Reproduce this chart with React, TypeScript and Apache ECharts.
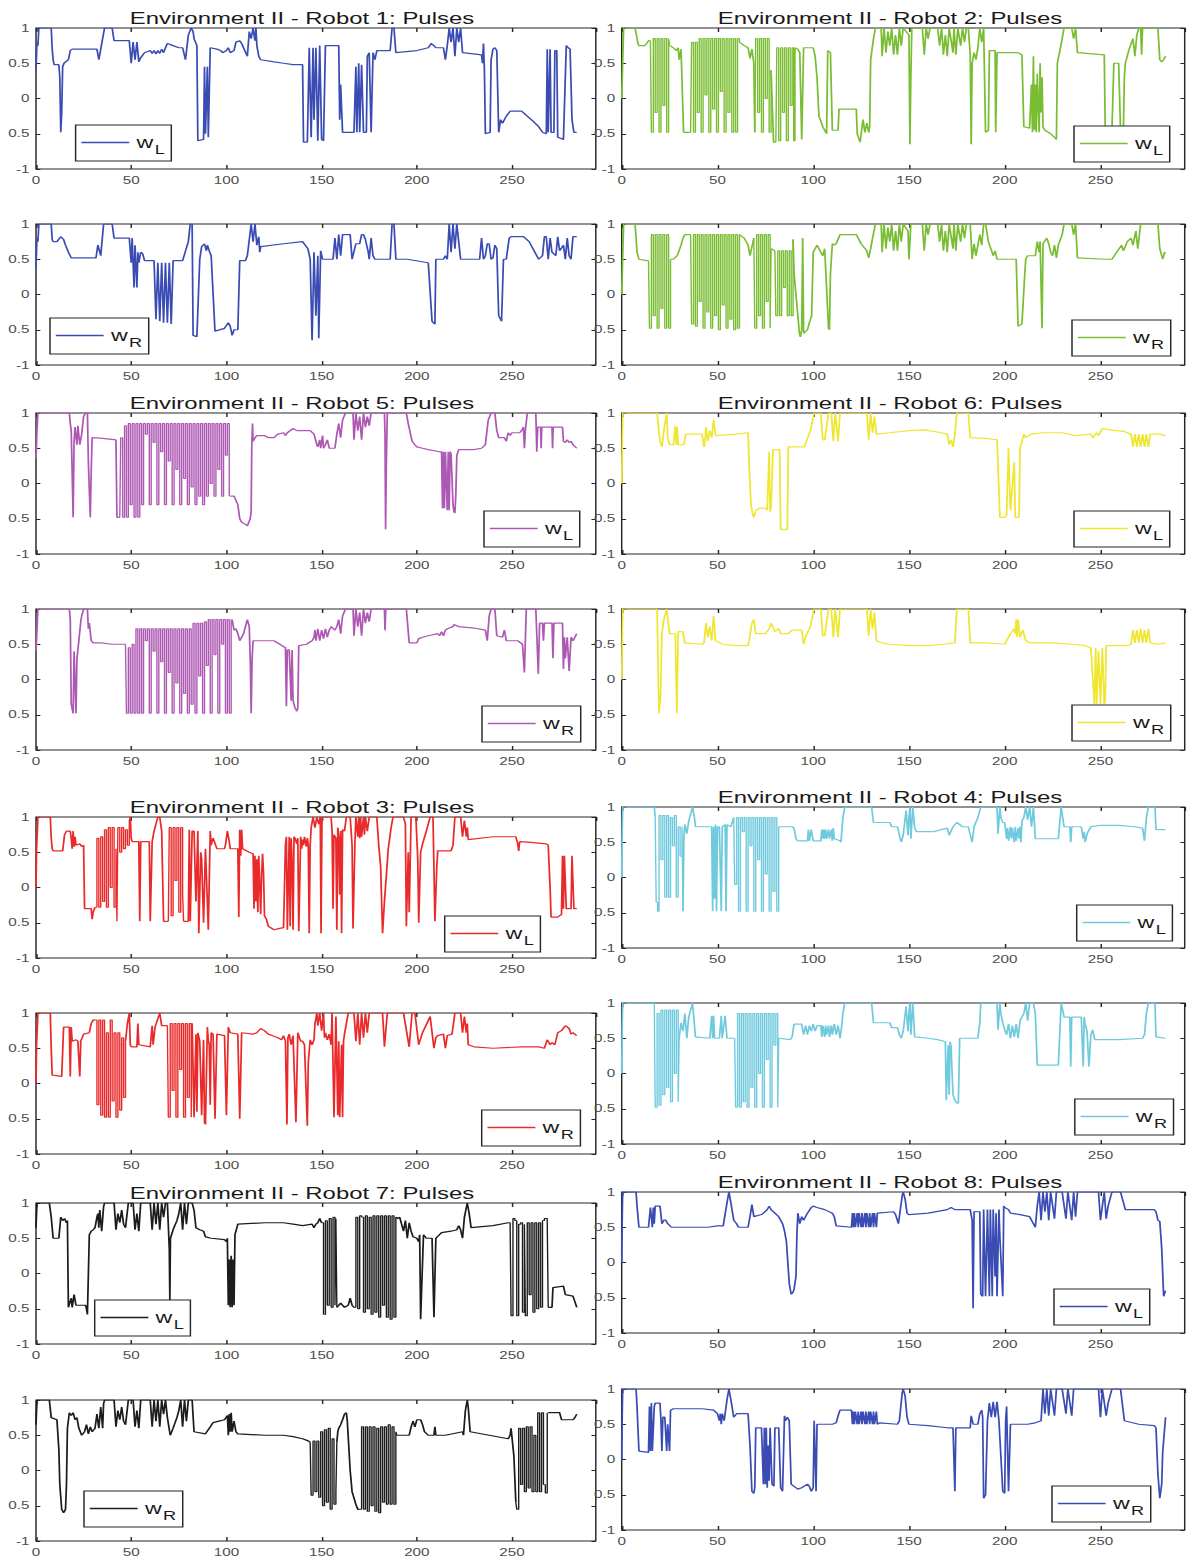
import React, { useEffect, useRef } from "react";
import * as echarts from "echarts";

// The figure is drawn on a narrower canvas and widened horizontally,
// which gives the broad lettering of the original plot export.
const STRETCH = 1.45;
const PAGE_W = 1189;
const PAGE_H = 1559;
const INNER_W = PAGE_W / STRETCH;

const FONT = "'Liberation Sans', Arial, Helvetica, sans-serif";

const X_MAX = 294;
const X_STEP = 50;
const Y_MIN = -1;
const Y_MAX = 1;
const Y_STEP = 0.5;

// break marker inside a trace (the pulse trains are drawn separately)
const GAP = NaN;

// ---- pulse traces, flat [x, y, x, y, ...] ----
const r1L = [0,0.4, 0.5,0.8, 1,0.75, 1.5,1, 8,1, 8.5,0.7, 9,0.55, 9.5,0.48, 12,0.48, 12.5,0.3, 13,-0.48, 13.5,-0.2, 14,0.45, 14.7,0.5, 17,0.55, 18,0.68, 19,0.7, 32,0.7, 33,0.55, 34,0.7, 36,1, 40,1, 41,0.82, 49,0.82, 50,0.5, 51,0.8, 52,0.55, 53,0.8, 54,0.52, 55,0.58, 57,0.65, 60,0.68, 61,0.64, 62,0.68, 63,0.63, 64,0.68, 65,0.64, 66,0.7, 67,0.65, 68,0.72, 69,0.78, 72,0.75, 75,0.72, 77,0.72, 78.5,0.55, 80,0.9, 81.5,1, 82.5,0.95, 83,0.85, 84.5,0.75, 85,-0.6, 88,-0.58, 88.5,0.45, 89,-0.5, 90,0.45, 90.5,-0.55, 91.5,0.72, 95,0.7, 97,0.68, 98,0.65, 100,0.68, 101,0.72, 102,0.65, 104,0.68, 105,0.8, 107,0.82, 108,0.78, 109,0.72, 111,0.6, 112,0.95, 113,0.85, 114,1, 115,0.82, 115.5,1, 116,0.75, 117,0.6, 118,0.55, 125,0.52, 130,0.5, 135,0.48, 140,0.48, 140.5,-0.62, 142.5,-0.62, 143.5,0.72, 144.5,-0.55, 145.5,0.72, 146,-0.3, 147,0.72, 148,-0.6, 149,0.75, 150,-0.58, 151,-0.6, 152,0.75, 159,0.75, 159.5,-0.3, 160,0.2, 161,-0.48, 167,-0.48, 168,0.45, 168.5,-0.48, 169.5,0.5, 170,-0.48, 171,0.48, 172,-0.48, 173.5,-0.48, 174,0.6, 175,0.65, 176,-0.48, 177,0.65, 178,0.55, 179,0.68, 186,0.68, 187,1, 188,1, 189,0.65, 200,0.68, 206,0.72, 207.5,0.78, 209,0.75, 210,0.72, 214,0.72, 215,0.55, 216,0.75, 217,1, 218,0.8, 219,1, 220,0.6, 221,1, 222,0.8, 223,1, 224,0.65, 234,0.62, 234.5,0.5, 235,0.78, 235.5,0.4, 236,-0.5, 238.5,-0.48, 239,0.55, 240,0.7, 241,0.72, 242,0.68, 243,-0.48, 244,-0.3, 245,-0.35, 247,-0.25, 249,-0.18, 255,-0.18, 258,-0.25, 261,-0.32, 264,-0.4, 266,-0.48, 268,-0.5, 268.5,0.7, 269,-0.48, 270,0.7, 270.5,-0.48, 272,-0.48, 272.5,0.68, 273.5,0.68, 274,-0.55, 277,-0.58, 278.5,0.75, 279.5,0.72, 280.5,0.7, 281.5,-0.3, 282.5,-0.48, 284,-0.48];

const r1R = [0,0.4, 0.5,0.8, 1,0.75, 1.5,1, 8,1, 8.5,0.78, 9,0.75, 11,0.75, 13,0.82, 14.5,0.78, 15.5,0.7, 17,0.6, 18.5,0.52, 31.5,0.52, 32.5,0.7, 34,0.55, 35.5,1, 40,1, 41,0.8, 49,0.8, 50,0.45, 50.5,0.8, 51.5,0.1, 52,0.7, 53,0.1, 53.5,0.6, 54,0.45, 55,0.6, 56,0.58, 57,0.48, 62,0.48, 63,-0.35, 64,0.45, 65,-0.38, 66,0.45, 67,-0.4, 68,0.45, 69,-0.4, 70,0.45, 71,-0.42, 72,0.48, 77,0.48, 80,0.75, 81,1, 82,1, 82.5,-0.58, 84.5,-0.6, 86,0.5, 87,0.68, 88.5,0.72, 89.5,0.62, 90,0.7, 91,0.62, 92,0.55, 94,-0.52, 99,-0.48, 101,-0.4, 102,-0.45, 103,-0.58, 104,-0.5, 106,-0.5, 107,0.48, 110,0.48, 111,0.55, 113,1, 114,0.75, 115,1, 116,0.7, 117,0.82, 117.5,0.6, 118,0.68, 130,0.72, 140,0.75, 142.8,0.65, 144,0.5, 145,-0.65, 146,0.6, 147,-0.3, 148,0.55, 148.5,-0.62, 149.5,0.62, 150.5,0.5, 156,0.5, 157,0.8, 158,0.5, 159,0.85, 160,0.55, 161,0.85, 165,0.85, 166,0.5, 168,0.72, 170,0.72, 171,0.85, 172,0.85, 173,0.78, 174.5,0.6, 175,0.5, 176,0.8, 177,0.55, 178,0.5, 186,0.5, 187,1, 188,1, 189,0.5, 195,0.5, 206,0.45, 208,-0.38, 209.5,-0.42, 210,0.5, 214,0.5, 215,0.55, 216,0.5, 217,1, 218,0.6, 219,1, 220,0.65, 221,1, 222,0.75, 223,0.5, 233,0.5, 234,0.8, 235,0.5, 236,0.55, 237,0.72, 238,0.72, 239,0.5, 240,0.52, 241,0.7, 242,0.65, 243,-0.3, 244.5,-0.38, 245.5,0.5, 247,0.5, 248.5,0.8, 249.5,0.82, 256,0.82, 259,0.75, 262,0.6, 264,0.5, 266,0.55, 267,0.82, 268,0.82, 269,0.5, 270,0.8, 271,0.6, 273,0.55, 274,0.82, 275,0.62, 277,0.7, 278,0.5, 279,0.8, 280,0.55, 281,0.5, 282,0.82, 284,0.82];

const r2L = [0,0, 1,1, 7,1, 8.5,0.78, 9,0.75, 12,0.75, 13,0.78, 14,0.82, 15,0.82, GAP,GAP,
  25,0.75, 27,0.72, 28.5,0.68, 29.5,0.72, 30,0.55, 31,0.7, 32.3,-0.48, 36,-0.48, GAP,GAP,
  61.5,0.8, 64,0.75, 66,0.72, 67,0.57, 68,0.7, 69,0.5, 69.5,-0.48, GAP,GAP,
  78,0.4, 79.3,-0.62, 80.5,-0.62, GAP,GAP,
  90.5,0.72, 92,0.7, 93,0.65, 94,-0.58, 95,0.72, 100,0.72, 101,0.6, 102,0.3, 103,-0.25, 105,-0.4, 107,-0.5, 107.6,0.68, 109,0.65, 110,-0.45, 113,-0.45, 113.5,-0.15, 122.5,-0.15, 123,-0.5, 124.5,-0.62, 126,-0.3, 127,-0.48, 128,-0.35, 129,-0.48, 129.5,-0.4, 130,0.55, 131.5,0.85, 132.5,1,
  135.5,1, 136,0.6, 137,1, 138,0.65, 139,0.95, 140,0.75, 141,1, 142,0.62, 143,0.9, 144,0.62, 145,1, 146,0.75, 147,1, 150,0.9, 150.5,-0.65, 151,0.3, 151.5,1, 157,1, 158,0.62, 159,1, 160,0.85, 161,1, 165,1, 166,0.75, 167,1, 168,0.62, 169,0.9, 170,0.6, 171,1, 173,0.65, 173.5,1, 174.5,0.62, 175.5,1, 177,0.75, 178,1, 179,0.8, 180,1, 181,1, 182,0.62, 182.5,-0.65, 183,0.5, 184,0.65, 185,0.55, 186,0.72, 187,1, 188,0.8, 189,1,
  190,-0.48, 191.5,-0.45, 192,0.68, 195,0.68, 195.3,-0.48, 196,0.65, 207,0.65, 209,0.62, 210,-0.4, 213,-0.42,
  214,0.2, 214.5,-0.48, 215,0.6, 215.5,-0.45, 216,0.2, 216.5,-0.48, 217,0.35, 218,-0.48, 218.5,0.5, 219,-0.2, 219.5,0.3, 220,-0.4, 221,-0.45, 224,-0.5, 226,-0.55, 227,-0.58, 227.5,0.5, 229,0.7, 230,0.85, 231,1, 235,1, 236,0.85, 237,1, 238,0.65, 252,0.62, 252.5,-0.45, 256,-0.45, 257,0.5, 259.5,0.5, 260.5,-0.45, 262,-0.42, 262.5,0.3, 263,0.5, 265,0.7, 267,0.85, 268,0.6, 269,0.9, 270,1, 271,1, 271.5,0.62, 272,1, 280,1, 281,0.55, 282,0.52, 283,0.55, 284,0.6];

const r2Lpulses = [
  [15,0.82, 15.5,-0.48, 16.5,0.85, 17.5,-0.2, 18.5,0.85, 19.5,-0.48, 20.5,0.85, 21.5,-0.1, 22.5,0.85, 23.5,-0.48, 24.5,0.85, 25,0.75],
  [36,-0.48, 36.5,0.8, 37.5,-0.48, 38.5,0.8, 39.5,-0.2, 40.5,0.85, 41.5,-0.48, 42.5,0.85, 43.5,0.05, 44.5,0.85, 45.5,-0.48, 46.5,0.85, 47.5,-0.15, 48.5,0.85, 49.5,-0.48, 50.5,0.85, 51.5,0.1, 52.5,0.85, 53.5,-0.48, 54.5,0.85, 55.5,-0.2, 56.5,0.85, 57.5,-0.48, 58.5,0.85, 59.5,-0.48, 60.5,0.85, 61.5,0.8],
  [69.5,-0.48, 70,0.85, 71,-0.2, 72,0.85, 73,-0.48, 74,0.85, 75,0, 76,0.85, 77,-0.48, 78,0.4],
  [80.5,-0.62, 81,0.72, 82,-0.6, 83,0.72, 84,-0.2, 85,0.72, 86,-0.6, 87,0.72, 88,-0.1, 89,0.72, 89.8,-0.6, 90.5,0.72],
];

const r2R = [0,0, 1,1, 7,1, 8,0.6, 9,0.5, 13,0.48, 14,0.48, GAP,GAP,
  25.5,0.5, 27,0.5, 29,0.55, 31,0.7, 32,0.8, 33,0.85, 36,0.85, GAP,GAP,
  61.5,0.85, 64,0.8, 66,0.7, 67,0.55, 69,0.8, GAP,GAP,
  78,0.65, 80,0.62, GAP,GAP,
  89.5,0.78, 90,0.3, 92.8,-0.55, 93.3,-0.6, 94,-0.5, 94.5,0.8, 95,-0.55, 97,-0.5, 98,-0.4, 99.2,-0.3, 100,0.6, 101,0.65, 102,0.7, 103,0.65, 105,0.55, 106,0.65, 108,-0.48, 108.5,-0.5, 109,0.3, 110,0.72, 111,0.7, 112,0.72, 114,0.85, 122.5,0.85, 125,0.72, 128,0.62, 129,0.52, 130,0.65, 131,0.8, 132.5,1,
  135.5,1, 136,0.6, 137,1, 138,0.65, 139,0.95, 140,0.75, 141,1, 142,0.62, 143,0.9, 144,0.62, 145,1, 146,0.75, 147,1, 149.5,0.9, 150,0.5, 151,1, 157,1, 158,0.62, 159,1, 160,0.85, 161,1, 165,1, 166,0.75, 167,1, 168,0.62, 169,0.9, 170,0.6, 171,1, 173,0.65, 173.5,1, 174.5,0.62, 175.5,1, 177,0.75, 178,1, 179,0.8, 180,1, 182,1, 183,0.5, 184,0.72, 185,0.55, 187,0.85, 188,0.7, 189,1, 190,1, 191.5,0.75, 194,0.55, 195,0.62, 196,0.5, 206,0.5, 207,-0.45, 209,-0.42, 210.5,0.3, 211,0.5, 212,0.55, 216,0.55, 217,0.75, 218,0.6, 218.5,0.75, 219.5,-0.48, 220,0.72, 222,0.8, 223,0.72, 224,0.6, 225,0.55, 226,0.7, 227,0.52, 228,0.7, 230,0.85, 231,1, 235,1, 236,0.85, 237,1, 238,0.52, 252,0.5, 256,0.5, 258,0.58, 261,0.7, 262,0.62, 264,0.75, 266,0.8, 267,0.7, 268.5,0.9, 269.5,0.65, 271,1, 280,1, 281,0.65, 282.5,0.5, 283.5,0.6, 284,0.58];

const r2Rpulses = [
  [14,0.48, 14.5,-0.48, 15.5,0.85, 16.5,-0.3, 17.5,0.85, 18.5,-0.48, 19.5,0.85, 20.5,-0.2, 21.5,0.85, 22.5,-0.48, 23.5,0.85, 24.5,-0.48, 25.5,0.5],
  [36,0.85, 36.5,-0.42, 37.5,0.85, 38.5,-0.45, 39.5,0.85, 40.5,-0.1, 41.5,0.85, 42.5,-0.48, 43.5,0.85, 44.5,-0.25, 45.5,0.85, 46.5,-0.48, 47.5,0.85, 48.5,-0.3, 49.5,0.85, 50.5,-0.5, 51.5,0.85, 52.5,-0.15, 53.5,0.85, 54.5,-0.48, 55.5,0.85, 56.5,-0.35, 57.5,0.85, 58.5,-0.5, 59.5,0.85, 60.5,-0.48, 61.5,0.85],
  [69,0.8, 69.5,-0.48, 70.5,0.85, 71.5,-0.3, 72.5,0.85, 73.5,-0.48, 74.5,0.85, 75.5,-0.1, 76.5,0.85, 77.5,-0.48, 78,0.65],
  [80,0.62, 80.5,-0.3, 81.5,0.62, 82.5,-0.3, 83.5,0.62, 84.5,0.1, 85.5,0.62, 86.5,-0.3, 87.5,0.62, 88.5,-0.3, 89.5,0.78],
];

const r5L = [0,0.35, 0.5,0.75, 1,1, 17.5,1, 18,0.85, 18.5,0.75, 19.5,-0.48, 20,0.6, 20.5,0.8, 21.5,0.55, 22,0.82, 23,0.55, 24,0.7, 25,0.95, 26,1, 27,1, 27.5,0.3, 28.5,-0.48, 29,0.2, 29.5,0.65, 35,0.64, 42,0.62, 42.5,-0.48, 44,-0.48, GAP,GAP,
  102,-0.18, 104,-0.18, 106,-0.3, 107,-0.5, 108,-0.55, 110,-0.58, 111,-0.6, 112.5,-0.5, 113,-0.4, 113.3,0.5, 113.7,0.85, 114,0.6, 115,0.65, 116,0.68, 120,0.68, 122,0.65, 125,0.65, 127,0.7, 130,0.72, 131,0.68, 132,0.72, 135,0.78, 137,0.75, 144,0.75, 146,0.7, 147.5,0.55, 148,0.52, 149,0.62, 149.5,0.5, 150.5,0.68, 151,0.5, 152,0.55, 153,0.62, 154,0.5, 157,0.5, 158,0.7, 159,0.85, 160,0.65, 161,0.9, 162.5,1, 166.5,1, 167,0.62, 168,1, 169,0.75, 170,0.95, 171,0.62, 172,1, 173,0.8, 174,0.95, 175,0.82, 176,1, 183,1, 183.3,0.7, 183.6,-0.65, 184,0.3, 184.5,1, 194.5,1, 195.5,0.85, 197.5,0.6, 199,0.55, 200,0.52, 203,0.5, 206,0.48, 212,0.45,
  213,0.45, 213.5,-0.35, 214,0.45, 214.5,-0.35, 215,0.45, 216,-0.38, 216.5,0.45, 217,-0.38, 217.5,0.45, 218,0.42, 219,-0.3, 219.5,-0.4, 220,-0.42, 220.5,-0.15, 221,0.4, 222,0.48, 230,0.48, 234,0.5, 236,0.55, 237.5,0.9, 239,1, 241,1, 242,0.75, 243,0.65, 246,0.65, 247,0.6, 248,0.72, 249,0.68, 250,0.72, 254,0.72, 255,0.75, 256,0.8, 256.5,0.5, 257,0.75, 258,1, 262.5,1, 263,0.45, 263.5,0.8, 265,0.8, 265.3,0.5, 265.6,0.8, 271,0.8, 271.3,0.5, 271.6,0.8, 276.5,0.8, 277,0.6, 278,0.58, 279,0.62, 280,0.58, 281,0.6, 282,0.55, 284,0.5];

const r5Lpulses = [
  [44,-0.48, 44.5,0.65, 45.5,-0.48, 46.5,0.82, 47.5,-0.48, 48.5,0.85, 49.5,-0.3, 50.5,0.85, 51.5,-0.48, 52.5,0.85, 53.5,-0.48, 54.5,0.85, 55.5,-0.3, 56.5,0.85, 57.5,0.7, 58.5,0.85, 59.5,-0.3, 60.5,0.85, 61.5,0.58, 62.5,0.85, 63.5,-0.3, 64.5,0.85, 65.5,0.45, 66.5,0.85, 67.5,-0.3, 68.5,0.85, 69.5,0.32, 70.5,0.85, 71.5,-0.3, 72.5,0.85, 73.5,0.2, 74.5,0.85, 75.5,-0.3, 76.5,0.85, 77.5,0.07, 78.5,0.85, 79.5,-0.3, 80.5,0.85, 81.5,-0.05, 82.5,0.85, 83.5,-0.3, 84.5,0.85, 85.5,-0.18, 86.5,0.85, 87.5,-0.3, 88.5,0.85, 89.5,-0.18, 90.5,0.85, 91.5,0, 92.5,0.85, 93.5,-0.18, 94.5,0.85, 95.5,0.2, 96.5,0.85, 97.5,-0.18, 98.5,0.85, 99.5,0.4, 100.5,0.85, 101.5,-0.18, 102,-0.18],
];

const r5R = [0,0.4, 1,1, 17.5,1, 18,0.85, 18.5,-0.35, 19.5,-0.48, 20,0.4, 21,-0.48, 21.5,0.3, 22.5,0.55, 23.5,0.82, 24,0.9, 25,1, 27,1, 27.5,0.72, 28,0.8, 29,0.55, 30,0.52, 34,0.52, 40,0.5, 47,0.5, GAP,GAP,
  103,0.85, 104,0.7, 105,0.72, 106,0.65, 107,0.55, 108,0.6, 109,0.65, 110,0.75, 111,0.85, 112,0.75, 112.6,0.2, 113,-0.48, 113.5,0.3, 114,0.55, 125,0.55, 128,0.5, 131,0.45, 131.5,-0.38, 132,0.42, 133,0.42, 134,-0.3, 134.5,0.42, 135,-0.3, 136,-0.4, 137,-0.45, 137.5,-0.4, 138,0.48, 142,0.5, 145,0.55, 146,0.6, 146.5,0.7, 147,0.55, 148,0.72, 149,0.55, 150,0.7, 151,0.58, 152,0.72, 153,0.6, 154,0.7, 155,0.75, 157,0.7, 158,0.75, 159,0.85, 160,0.65, 161,0.9, 162.5,1, 166.5,1, 167,0.62, 168,1, 169,0.75, 170,0.95, 171,0.62, 172,1, 173,0.8, 174,0.95, 175,0.82, 176,1, 183,1, 183.3,0.7, 183.7,1, 194.5,1, 196,0.52, 200,0.52, 201,0.58, 203,0.6, 206,0.62, 211,0.65, 212,0.62, 213,0.68, 214,0.62, 215,0.7, 216,0.72, 219,0.75, 219.5,0.78, 222,0.75, 230,0.73, 236,0.7, 237,0.55, 238,0.9, 239,1, 241,1, 242,0.62, 245,0.6, 246,0.7, 247,0.55, 253,0.55, 255.5,0.5, 256.5,0.1, 257.5,1, 262.5,1, 263.8,0.08, 264.5,0.8, 266,0.8, 266.5,0.55, 267,0.8, 271,0.8, 271.5,0.3, 272,0.8, 276.5,0.8, 277,0.15, 277.5,0.6, 278,0.3, 279,0.6, 280,0.12, 281,0.6, 282,0.55, 284,0.65];

const r5Rpulses = [
  [47,0.5, 47.5,-0.48, 48.5,0.45, 49.5,-0.48, 50.5,0.5, 51.5,-0.48, 52.5,0.72, 53.5,-0.48, 54.5,0.72, 55.5,-0.48, 56.5,0.72, 57.5,0.55, 58.5,0.72, 59.5,-0.48, 60.5,0.72, 61.5,0.4, 62.5,0.72, 63.5,-0.48, 64.5,0.72, 65.5,0.25, 66.5,0.72, 67.5,-0.48, 68.5,0.72, 69.5,0.1, 70.5,0.72, 71.5,-0.48, 72.5,0.72, 73.5,-0.05, 74.5,0.72, 75.5,-0.48, 76.5,0.72, 77.5,-0.2, 78.5,0.72, 79.5,-0.48, 80.5,0.72, 81.5,-0.35, 82.5,0.8, 83.5,-0.48, 84.5,0.8, 85.5,0.05, 86.5,0.8, 87.5,-0.48, 88.5,0.82, 89.5,0.2, 90.5,0.85, 91.5,-0.48, 92.5,0.85, 93.5,0.35, 94.5,0.85, 95.5,-0.48, 96.5,0.85, 97.5,0.5, 98.5,0.85, 99.5,-0.48, 100.5,0.85, 101.5,-0.48, 102.5,0.85, 103,0.85],
];

const r6L = [0,0, 0.5,1, 18.5,1, 19,0.85, 20,0.6, 21,0.52, 22,0.75, 23.5,1, 24,0.65, 25,0.55, 27,0.55, 28,0.82, 28.5,0.55, 29,0.8, 29.5,0.55, 32.5,0.55, 33.5,0.7, 42,0.7, 43,0.52, 43.5,0.6, 44,0.8, 45,0.6, 46,0.75, 47,0.65, 48,0.9, 49,0.68, 60,0.7, 66,0.72, 66.5,0.3, 67,0, 67.5,-0.3, 68.5,-0.45, 69,-0.48, 70,-0.38, 72,-0.35, 75,-0.35, 76,-0.38, 77,0.45, 77.5,-0.4, 78,-0.35, 79,0.48, 82.5,0.48, 83,-0.65, 86.5,-0.65, 87,0.52, 95.5,0.52, 96.5,0.6, 98.5,0.75, 100.5,1, 104,1, 105,0.62, 106,0.62, 108,1, 109.5,1, 110.5,0.6, 111.5,1, 113,0.6, 114,1, 128,1, 129,0.62, 130,1, 131,0.72, 132,0.95, 133,0.7, 140,0.72, 150,0.75, 158,0.76, 167,0.72, 170,0.7, 171,0.55, 172,0.62, 173,0.52, 174,0.7, 175,1, 181,1, 182,0.65, 190,0.64, 196,0.62, 197.5,-0.48, 200,-0.48, 201,-0.45, 202,0.5, 203,-0.38, 205,0.3, 205.5,-0.48, 207.5,-0.48, 208,0.5, 209,0.6, 210,0.7, 211,0.65, 214,0.7, 220,0.72, 230,0.72, 237,0.68, 245,0.7, 246,0.65, 248,0.72, 249,0.68, 251,0.78, 255,0.76, 262,0.74, 266,0.7, 267,0.52, 268,0.7, 269,0.52, 270,0.7, 271,0.52, 272,0.7, 273,0.52, 274,0.7, 275,0.52, 276,0.7, 281,0.7, 284,0.68];

const r6R = [0,0, 0.5,1, 18.5,1, 19,0.15, 19.5,-0.48, 20.3,-0.2, 21,0.65, 22,0.85, 23.5,1, 25,0.65, 28,0.65, 28.8,-0.48, 29.5,0.68, 32,0.68, 33,0.52, 42,0.5, 43,0.52, 44,0.8, 45,0.6, 46,0.75, 47,0.55, 48,0.9, 49,0.55, 53,0.5, 60,0.48, 66,0.48, 67,0.62, 68,0.8, 69,0.85, 70,0.65, 75,0.65, 77,0.72, 78,0.8, 79,0.75, 80,0.68, 82,0.72, 83,0.65, 87,0.65, 89,0.7, 94,0.7, 95,0.5, 96,0.6, 98.5,0.75, 100.5,1, 104,1, 105,0.62, 106,0.62, 108,1, 109.5,1, 110.5,0.6, 111.5,1, 113,0.6, 114,1, 128,1, 129,0.62, 130,1, 131,0.72, 132,0.95, 133,0.55, 136,0.52, 140,0.5, 150,0.48, 160,0.48, 168,0.5, 174,0.52, 175,1, 181,1, 182,0.52, 190,0.52, 200,0.5, 201,0.55, 203,0.65, 205,0.72, 205.5,0.65, 206,0.85, 206.5,0.6, 207,0.85, 208,0.6, 209.5,0.7, 211,0.55, 213,0.52, 225,0.52, 235,0.5, 242,0.48, 245,0.45, 246.8,-0.35, 247.5,0.45, 248,-0.35, 249,0.4, 250,-0.35, 251,0.45, 252,-0.35, 252.5,-0.3, 253,0.48, 264,0.48, 266,0.5, 267,0.7, 268,0.52, 269,0.7, 270,0.52, 271,0.72, 272,0.52, 273,0.7, 274,0.52, 275,0.72, 276,0.52, 280,0.5, 284,0.52];

const r3L = [0,0, 0.3,0.55, 1,1, 7.5,1, 8,0.7, 8.5,0.55, 9,0.52, 14,0.52, 15,0.75, 16,0.8, 18,0.8, 18.5,0.7, 19,0.55, 19.5,0.8, 20,0.58, 20.5,0.72, 21,0.6, 23,0.62, 24,0.58, 25,0.6, 25.5,-0.3, 29,-0.3, 29.5,-0.45, 30,-0.35, 31,-0.28, GAP,GAP,
  49.5,1, 50,0.7, 50.5,0.65, 54,0.65, 54.5,-0.48, 55,0.65, 59.5,0.65, 60,-0.48, 61,0.65, 62,0.8, 64,1, 65,1, 66,0.8, 67,-0.48, 69.5,-0.48, GAP,GAP,
  77.5,-0.48, 80,-0.48, 80.5,0.82, 81,-0.48, 82,0.8, 83,0.8, 84,-0.2, 85,0.8, 85.5,-0.65, 86.5,0.5, 87,0.4, 88,-0.5, 89,0.55, 90.5,-0.6, 91.5,0.8, 92,0.6, 93,0.7, 95,0.55, 99,0.55, 99.5,0.6, 100.5,0.8, 101.5,0.65, 102,0.55, 106,0.55, 106.5,-0.42, 107,0.82, 107.5,0.45, 108,0.82, 108.5,0.55, 109,0.55, 112,0.5, 114,0.48,
  114.5,-0.3, 115,0.45, 115.5,-0.2, 116,0.4, 116.5,-0.35, 117,0.45, 118,-0.38, 118.5,0.2, 119,0.48, 119.5,0.2, 120,-0.4, 121,-0.45, 122,-0.55, 125,-0.6, 128,-0.58, 130,-0.57,
  131,0.6, 131.5,0.72, 132,-0.6, 133,0.72, 133.5,-0.55, 134,0.7, 134.5,0.35, 135,-0.6, 135.5,0.72, 136,0.7, 137,0.62, 137.5,0.7, 138,-0.62, 139,0.72, 139.5,0.55, 140,0.68, 140.5,0.6, 141,0.72, 142,0.58, 142.5,0.7, 143,0.6, 143.5,-0.65, 144,0.6, 144.5,0.85, 145.5,1, 146.5,0.85, 147.5,1, 148.5,0.9, 149.3,1, 149.7,-0.65, 150.2,1, 155,1, 155.5,0.8, 156,-0.3, 156.5,0.75, 157.5,0.7, 158,-0.6, 158.5,0.85, 159,0.72, 159.5,-0.1, 160,0.8, 160.5,-0.65, 161,0.82, 162,0.8, 163,1, 165,1, 166,0.6, 166.5,-0.58, 167.5,0.65, 168,1, 169,0.72, 169.5,1, 170,0.7, 170.5,1, 171,0.72, 172,1, 172.5,0.75, 173,1, 174,0.8, 175,1, 179,1, 180,0.6, 181,0.3, 182,-0.65, 183,-0.2, 185,0.55, 186.5,0.85, 187.5,1, 193,1, 194,0.9, 194.5,-0.55, 195.5,0.5, 196,-0.35, 197,1, 199.5,1, 200.5,0.4, 201,-0.5, 202,0.5, 203,0.62, 205,0.8, 207,1, 208.5,1, 209.5,-0.48, 210.5,0.3, 211,0.52, 218,0.52, 219,0.6, 220,1, 223,1, 224,0.72, 225,0.95, 226,0.72, 226.5,0.85, 227,0.68, 240,0.72, 252,0.72, 253,0.62, 253.5,0.52, 254,0.65, 260,0.64, 268,0.62, 269,0.6, 270,0, 270.5,-0.42, 274,-0.42, 276,-0.38, 276.5,0.45, 277,-0.3, 277.5,0.45, 278.5,-0.3, 281,-0.3, 281.5,0.45, 282.5,-0.3, 284,-0.3];

const r3Lpulses = [
  [31,-0.28, 32,0.7, 33,-0.28, 34,0.72, 35,-0.2, 36,0.82, 37,-0.28, 38,0.85, 39,0, 40,0.85, 41,-0.28, 42,0.55, 42.5,-0.48, 43,0.85, 44,0.5, 45,0.85, 46,0.55, 47,0.82, 48,0.6, 49,0.95, 49.5,1],
  [69.5,-0.48, 70,0.85, 71,-0.4, 72,0.85, 73,0.1, 74,0.85, 75,-0.35, 76,0.85, 77,-0.1, 77.5,-0.48],
];

const r3R = [0,0, 0.3,0.55, 1,1, 7.5,1, 8,0.5, 8.5,0.12, 13.5,0.1, 14.5,0.8, 17.5,0.8, 18,0.1, 18.5,0.8, 19,0.6, 21,0.62, 22,0.6, 23,0.1, 23.5,0.6, 25,0.7, 28,0.72, 29,0.85, 30,0.9, 31,0.9, GAP,GAP,
  47,0.6, 48,0.85, 49,1, 49.5,0.55, 50,0.52, 53,0.52, 53.5,0.85, 54,0.55, 60,0.52, 61,0.82, 61.5,0.55, 62.5,0.8, 65,1, 66,0.82, 69,0.82, GAP,GAP,
  82,0.85, 83,-0.48, 84,0.7, 84.5,-0.4, 85,0.72, 86,0.6, 87,-0.45, 88,0.62, 88.5,-0.55, 89,-0.58, 90,0.8, 90.5,0.6, 91,0.55, 91.5,-0.3, 92,0.72, 93,0.7, 94,-0.5, 95,0.7, 99,0.68, 100,-0.45, 101,0.8, 102,0.72, 106,0.7, 107,-0.5, 108,0.72, 114,0.7, 116,0.72, 118,0.78, 120,0.75, 122,0.7, 124,0.68, 127,0.65, 129,0.62, 130,0.68, 131,0.6, 131.8,-0.58, 132.3,0.65, 133,0.7, 134,0.55, 135,0.68, 136.5,-0.55, 137.5,0.72, 139,0.6, 140,0.6, 141,0.55, 142.5,-0.6, 143,0.3, 144,0.62, 145,0.55, 146,0.62, 146.5,0.85, 147.5,1, 148,0.82, 149,1, 150,0.75, 151,1, 151.5,0.65, 152,0.72, 153,0.62, 154,0.7, 155,0.55, 155.5,1, 156.5,-0.48, 157.5,0.95, 158.5,-0.45, 159,0.6, 159.5,-0.48, 160.5,0.55, 161,-0.48, 161.5,0.6, 162,0.7, 163,0.85, 164,1, 167,1, 168,0.6, 169,1, 170,0.55, 171,1, 172,0.65, 173,1, 174,0.72, 175,1, 182,1, 183,0.52, 184.5,1, 193,1, 196,0.52, 197.5,1, 199,1, 201,0.55, 203,0.72, 207,0.95, 209,0.5, 210,0.65, 211,0.68, 214,0.7, 215,0.5, 216,0.68, 218.5,0.7, 220,1, 223,1, 224,0.72, 225,0.95, 226,0.72, 226.5,0.85, 227,0.55, 230,0.52, 240,0.5, 255,0.52, 264,0.52, 267,0.5, 268.5,0.62, 270,0.55, 271,0.58, 272.5,0.55, 274,0.72, 276,0.75, 278,0.82, 280,0.78, 281,0.7, 282,0.72, 284,0.68];

const r3Rpulses = [
  [31,0.9, 32,-0.3, 33,0.9, 34,-0.45, 35,0.9, 36,-0.48, 37,0.72, 38,-0.48, 39,0.9, 40,-0.25, 41,0.72, 42,-0.48, 43,0.72, 44,-0.38, 45,0.65, 46,-0.2, 47,0.6],
  [69,0.82, 69.5,-0.48, 70.5,0.85, 71.5,-0.1, 72.5,0.85, 73.5,-0.48, 74.5,0.85, 75.5,0.2, 76.5,0.85, 77.5,-0.48, 78.5,0.85, 79.5,-0.2, 80.5,0.85, 81.5,-0.48, 82,0.85],
];

const r4L = [0,0, 0.3,0.7, 0.5,1, 17,1, 17.5,0.85, GAP,GAP,
  32,-0.48, 32.5,0.6, 33,0.75, 34,0.62, 35,0.8, 36,0.9, 37,1, 37.5,1, 38,0.85, 38.5,0.72, 47,0.72, 47.5,-0.48, 48,0.72, 48.5,-0.3, 49,0.75, 49.5,-0.48, 50,0.72, 51,0.72, 52,-0.48, 52.5,0.72, 54,0.75, 54.5,-0.48, 55,0.75, 57,0.72, 58.5,0.85, GAP,GAP,
  82,0.72, 89,0.72, 90,0.7, 91,0.55, 92,0.52, 97,0.52, 97.5,0.68, 98,0.52, 99,0.68, 100,0.52, 104,0.52, 104.5,0.68, 105,0.55, 105.5,0.68, 106,0.55, 106.5,0.68, 107,0.55, 108,0.68, 108.5,0.55, 109.5,0.68, 110,0.52, 110.5,0.7, 111,0.55, 114,0.52, 114.5,0.5, 115.5,0.85, 116.5,1, 130.5,1, 131.5,0.78, 140,0.78, 141,0.72, 144,0.72, 145,0.6, 146,0.5, 147,0.6, 148.5,0.95, 149.5,0.6, 150,0.85, 150.5,1, 151,0.55, 152,1, 153,0.7, 154,0.65, 163,0.65, 167,0.68, 170,0.7, 171,0.6, 173,0.72, 175,0.78, 178,0.72, 181,0.72, 182.5,0.55, 183,0.5, 184,0.72, 186,0.85, 187.5,1, 196,1, 196.5,0.62, 197.5,1, 198,0.85, 199,0.78, 200,0.78, 201,0.55, 201.5,0.7, 202,0.52, 203,0.72, 203.5,0.55, 204,0.7, 205,0.5, 205.5,0.72, 206,0.52, 207,0.7, 207.5,0.55, 208,0.72, 208.5,0.5, 209,0.8, 210,0.85, 211,1, 212,0.82, 213,1, 214,0.72, 215,1, 216,0.55, 228,0.55, 229.5,1, 230,1, 231,0.72, 234,0.72, 234.5,0.5, 235,0.72, 240,0.72, 241,0.55, 241.5,0.65, 242,0.5, 243,0.62, 245,0.72, 250,0.74, 260,0.74, 268,0.72, 272,0.7, 273,0.52, 274,0.85, 275,1, 278.5,1, 279,0.68, 284,0.68];

const r4Lpulses = [
  [17.5,0.85, 18,-0.35, 18.8,-0.48, 19.5,0.88, 20.5,0.25, 21.5,0.88, 22.5,-0.28, 23.5,0.88, 24.5,-0.28, 25.5,0.85, 26.5,0.45, 27.5,0.88, 28.5,-0.28, 29.5,0.72, 30.5,0.3, 31.5,0.72, 32,-0.48],
  [58.5,0.85, 59,-0.1, 60,0.85, 61,-0.48, 62,0.85, 63,0.65, 64,0.85, 65,-0.48, 66,0.85, 67,0.45, 68,0.85, 69,-0.48, 70,0.85, 71,0.25, 72,0.85, 73,-0.48, 74,0.85, 75,0.05, 76,0.85, 77,-0.48, 78,0.85, 79,-0.2, 80,0.85, 81,-0.48, 82,0.72],
];

const r4R = [0,0, 0.3,0.7, 0.5,1, 17,1, GAP,GAP,
  30,0.5, 31,0.72, 32,0.6, 33,0.85, 34,0.5, 35,0.8, 37,1, 37.5,1, 38.5,0.52, 46,0.5, 47,0.82, 47.5,0.5, 48,0.82, 48.5,0.5, 51,0.5, 52,0.82, 52.5,0.5, 54,0.82, 55,0.5, 59,0.5, GAP,GAP,
  82,0.5, 88,0.48, 89,0.52, 90,0.7, 94,0.7, 95,0.55, 96,0.68, 97,0.55, 98,0.68, 99,0.6, 100,0.7, 101,0.6, 102,0.68, 104,0.68, 104.5,0.52, 105,0.68, 106,0.52, 106.5,0.68, 107,0.55, 108,0.68, 108.5,0.52, 109.5,0.68, 110,0.55, 111,0.7, 112,0.55, 113,0.68, 114,0.5, 115,0.7, 115.5,0.85, 116.5,1, 130.5,1, 131.5,0.72, 140,0.72, 141,0.65, 144,0.65, 145,0.55, 146,0.5, 147,0.6, 148.5,0.95, 149.5,0.6, 150,0.85, 150.5,1, 151,0.55, 152,1, 153,0.52, 160,0.5, 165,0.48, 169,0.45, 169.5,-0.38, 170.5,0.4, 171,-0.3, 171.5,0.45, 172,0.38, 173,-0.3, 174,-0.38, 175,-0.42, 175.8,-0.42, 176.5,0.5, 186,0.5, 187,0.72, 187.5,1, 196,1, 196.5,0.62, 197.5,1, 198,0.85, 199,0.72, 200,0.62, 201,0.55, 202,0.7, 203,0.5, 204,0.68, 205,0.52, 206,0.7, 207,0.5, 208,0.75, 210,0.85, 211,1, 212,0.75, 213,1, 215,1, 216,0.85, 217,0.12, 228,0.12, 229.5,1, 230,1, 231,0.8, 234,0.8, 234.5,0.1, 235,0.8, 240,0.8, 241,0.1, 241.5,0.8, 242,0.7, 243,0.6, 244,0.1, 245,0.55, 246,0.62, 247,0.48, 260,0.48, 272,0.5, 273,0.55, 274,0.85, 275,1, 278.5,1, 279,0.52, 284,0.5];

const r4Rpulses = [
  [17,1, 17.5,-0.48, 18.5,0.85, 19.5,-0.45, 20.5,0.9, 21.5,-0.3, 22.5,0.9, 23.5,-0.2, 24.5,0.9, 25.5,-0.4, 26.5,0.9, 27.5,0, 28.5,0.9, 29.5,-0.4, 30,0.5],
  [59,0.5, 59.5,-0.48, 60.5,0.85, 61.5,-0.48, 62.5,0.85, 63.5,-0.4, 64.5,0.85, 65.5,-0.48, 66.5,0.85, 67.5,-0.2, 68.5,0.85, 69.5,-0.48, 70.5,0.85, 71.5,0, 72.5,0.85, 73.5,-0.48, 74.5,0.85, 75.5,0.2, 76.5,0.85, 77.5,-0.48, 78.5,0.85, 79.5,0.4, 80.5,0.85, 81.5,-0.48, 82,0.5],
];

const r7L = [0,0.65, 0.5,1, 7,1, 8,0.8, 9,0.5, 12,0.5, 13,0.8, 14,0.75, 15,0.78, 16,0.72, 16.5,0.75, 17,-0.48, 18.5,-0.35, 19,-0.48, 20,-0.3, 21,-0.45, 26,-0.45, 26.5,-0.5, 27,-0.58, 28,0.55, 29,0.6, 30,0.62, 31,0.65, 32,0.8, 32.5,0.85, 33,0.65, 33.5,0.9, 34.5,0.6, 35.5,0.95, 36,1, 41,1, 42,0.62, 43,0.85, 44,0.72, 45,0.9, 46,0.7, 47,0.65, 48.5,1, 51,1, 52,0.62, 53,0.85, 54,0.6, 55,1, 60,1, 61,0.62, 62,1, 63,0.7, 64,1, 65,0.62, 66,1, 67,0.8, 68,1, 69,1, 70,0.35, 70.3,-0.38, 70.6,0.5, 72,0.62, 74,0.75, 75,0.85, 76,1, 77,0.62, 78,1, 79,0.7, 80,1, 82,1, 83,0.9, 84,0.65, 86,0.62, 88,0.6, 89,0.52, 92,0.5, 99,0.48, 100,0.45, 100.5,0.5, 101,-0.45, 101.5,0.2, 102,-0.48, 102.5,0.25, 103,-0.48, 103.5,0.2, 104,-0.45, 104.5,0.55, 106,0.7, 120,0.72, 130,0.72, 135,0.7, 140,0.68, 145,0.7, 146,0.65, 147,0.7, 148,0.72, 149,0.78, 150,0.72, GAP,GAP,
  158,-0.48, 160,-0.42, 162,-0.48, 164,-0.45, 165,-0.35, 166,-0.45, 167,-0.48, GAP,GAP,
  189,0.8, 190,0.78, 191,0.8, 192,0.7, 193,0.6, 194,0.75, 195,0.5, 196,0.72, 197,0.6, 198,0.52, 200,0.5, 201,0.45, 201.5,0.55, 202,-0.65, 203.5,0.55, 205,0.5, 208,0.5, 209,-0.62, 210,0.5, 213,0.58, 218,0.6, 221,0.62, 222,0.68, 223,0.62, 224,0.5, 225,0.8, 226.5,1, 227.5,0.85, 228.5,0.65, 240,0.68, 248,0.72, 249,0.72, GAP,GAP,
  269,-0.48, 271,-0.48, 271.5,-0.2, 277,-0.18, 278,-0.3, 282,-0.32, 283,-0.4, 284,-0.48];

const r7Lpulses = [
  [150,0.72, 151,-0.58, 152,0.75, 153,-0.45, 154,0.78, 155,-0.48, 156,0.8, 157,-0.45, 157.5,0.78, 158,-0.48],
  [167,-0.48, 168,0.8, 169,-0.5, 170,0.82, 171,0.8, 172,-0.55, 173,0.82, 174,-0.5, 175,0.8, 176,-0.58, 177,0.82, 178,-0.55, 179,0.82, 180,-0.62, 181,0.82, 182,-0.45, 183,0.82, 184,-0.62, 185,0.82, 186,-0.65, 187,0.82, 188,-0.62, 189,0.8],
  [249,0.72, 249.5,-0.6, 250.5,0.78, 251.5,0.75, 252.5,-0.6, 253.5,0.7, 254.5,0.72, 255.5,-0.55, 256.5,0.7, 257,-0.6, 258,0.72, 259,-0.3, 260,0.72, 261,-0.55, 262,0.72, 263,-0.5, 264,0.72, 265,-0.48, 266,0.75, 267,0.78, 268.5,0.72, 269,-0.48],
];

const r7R = [0,0.65, 0.5,1, 7,1, 8,0.75, 11,0.72, 12,0.3, 12.5,-0.2, 13.5,-0.55, 14.5,-0.6, 15.5,-0.55, 16,-0.2, 16.5,0.6, 17.5,0.82, 18.5,0.78, 19.5,0.82, 20.5,0.72, 21.5,0.75, 22.5,0.6, 24,0.5, 25.5,0.55, 26.5,0.65, 27.5,0.52, 28.5,0.62, 29.5,0.55, 31,0.6, 32,0.8, 33,0.6, 34,0.9, 35,0.6, 35.5,0.95, 36,1, 41,1, 42,0.62, 43,0.85, 44,0.72, 45,0.9, 46,0.7, 47,0.65, 48.5,1, 51,1, 52,0.62, 53,0.85, 54,0.6, 55,1, 60,1, 61,0.62, 62,1, 63,0.7, 64,1, 65,0.62, 66,1, 67,0.8, 68,1, 69,0.75, 70.5,0.5, 72,0.6, 74,0.75, 75,0.85, 76,1, 77,0.62, 78,1, 79,0.7, 80,1, 82,1, 83,0.55, 89,0.52, 91,0.6, 93,0.68, 96,0.7, 99,0.72, 100.5,0.78, 101,0.5, 101.5,0.8, 102,0.55, 102.5,0.82, 103,0.55, 104,0.7, 105,0.55, 106,0.52, 120,0.5, 130,0.5, 135,0.48, 140,0.45, 143,0.42, 144,0.4, GAP,GAP,
  158,0.4, 158.5,0.55, 159,0.6, 160,0.65, 161,0.72, 162,0.8, 163,0.82, 163.5,0.7, 165,0, 166,-0.3, 168,-0.48, 169,-0.55, 170,-0.55, GAP,GAP,
  189.5,0.5, 196,0.5, 197,0.62, 198,0.7, 199,0.62, 200,0.72, 202,0.72, 203,0.65, 204,0.55, 206,0.5, 209,0.5, 209.5,0.62, 210,0.5, 215,0.5, 224,0.55, 224.5,0.5, 225.5,0.85, 226.5,1, 227,0.9, 228,0.55, 238,0.5, 248,0.45, 249,0.5, 249.5,0.6, 250,0.6, 251,0.2, 252,-0.45, GAP,GAP,
  269,0.82, 275,0.82, 276,0.72, 282,0.72, 283,0.75, 284,0.8];

const r7Rpulses = [
  [144,0.4, 144.5,-0.35, 145.5,0.42, 146.5,-0.3, 147.5,0.42, 148.5,-0.38, 149.5,0.55, 150.5,-0.5, 151.5,0.58, 152.5,-0.45, 153.5,0.6, 154.5,-0.55, 155.5,0.45, 156.5,-0.48, 157.5,-0.3, 158,0.4],
  [170,-0.55, 171,0.62, 172,-0.55, 173,0.62, 174,-0.58, 175,0.62, 176,-0.5, 177,0.62, 178,-0.58, 179,0.6, 180,-0.6, 181,0.62, 182,-0.45, 183,0.62, 184,-0.48, 185,0.65, 186,-0.48, 187,0.62, 188,-0.48, 189,0.55, 189.5,0.5],
  [252,-0.45, 252.5,-0.55, 253.5,0.6, 254.5,-0.2, 255.5,0.6, 256.5,-0.3, 257.5,0.62, 258.5,-0.25, 259.5,0.62, 260.5,-0.3, 261.5,0.5, 262.5,-0.3, 263.5,0.82, 264.5,-0.3, 265.5,0.82, 266.5,-0.2, 267.5,-0.32, 268.5,0.82, 269,0.82],
];

const r8L = [0,0, 0.3,0.68, 0.5,1, 7.5,1, 8,0.8, 9,0.5, 14,0.5, 15,0.78, 16,0.5, 16.5,0.78, 17,0.55, 17.5,0.8, 20,0.8, 21,0.55, 22,0.6, 23,0.6, 24,0.55, 26,0.5, 45,0.5, 50,0.52, 53,0.52, 55,0.85, 56,1, 57,0.85, 58.5,0.6, 60,0.55, 61,0.5, 66,0.5, 67,0.65, 68,0.82, 69,0.65, 73,0.68, 74,0.7, 76,0.75, 77,0.8, 78,0.75, 80,0.7, 82,0.65, 84,0.55, 85,0.45, 86,0.3, 87.5,-0.3, 88.5,-0.45, 89.5,-0.42, 90,-0.38, 91,-0.2, 91.5,0.4, 92,0.7, 93,0.55, 94,0.65, 95,0.6, 97,0.7, 99,0.78, 100,0.8, 102,0.78, 106,0.75, 110,0.7, 111,0.65, 112,0.52, 120,0.5,
  120.5,0.7, 121,0.5, 121.5,0.7, 122,0.5, 123,0.7, 123.5,0.5, 124,0.7, 125,0.5, 125.5,0.7, 126,0.5, 127,0.7, 127.5,0.5, 128,0.7, 129,0.5, 129.5,0.7, 130,0.5, 131,0.7, 131.5,0.5, 132,0.7, 133,0.5, 133.5,0.7, 134,0.7, 142,0.72, 143,0.68, 144.5,0.55, 145,0.65, 146.5,0.95, 147,1, 148,0.9, 149,0.7, 150,0.68, 160,0.7, 170,0.75, 172,0.78, 174,0.75, 182,0.75, 183,0.6, 183.5,-0.65, 184,0.72, 187,0.72, 187.5,-0.45, 188.5,-0.48, 189,0.75, 190,-0.48, 191,0.75, 192,-0.48, 192.5,0.75, 193.5,-0.48, 194,0.75, 195,-0.2, 195.5,0.7, 196,-0.48, 197,0.75, 197.5,0.35, 199,-0.48, 199.5,0.8, 200,0.78, 202,0.75, 203,0.7, 208,0.68, 213,0.65, 214,0.6, 215,0.55, 216,0.5, 217,0.8, 218,1, 219,0.6, 220,1, 221,0.72, 222,1, 223,0.6, 224,1, 226,0.62, 227,1, 230,1, 232,0.62, 233,1, 235,0.6, 236,1, 237,0.65, 238,1, 249,1, 250,0.6, 251,0.8, 252,1, 253,0.62, 254,0.8, 256,1, 260.5,1, 263,0.75, 278,0.75, 279,0.72, 280,0.6, 281,0.58, 282,0.2, 283,-0.48, 284,-0.4];

const r8R = [0,0, 0.3,0.68, 0.5,1, 7.5,1, 8,0.75, 9,0.12, 14,0.1, 14.5,0.75, 15,0.12, 15.5,0.8, 16,0.12, 17,0.75, 17.5,0.8, 20,0.8, 20.5,0.55, 21,0.12, 21.5,0.6, 22.5,0.6, 23.5,0.12, 24,0.5, 25,0.12, 25.5,0.7, 27,0.72, 42,0.72, 48,0.7, 50,0.65, 51,0.55, 51.5,0.65, 52,0.5, 52.5,0.65, 53.5,0.55, 55,0.85, 56,1, 57,0.85, 58.5,0.6, 60,0.65, 66,0.65, 67,0.2, 68,-0.45, 69,-0.48, 69.5,-0.4, 70,0.45, 73,0.45, 74,-0.35, 74.5,0.45, 75,-0.35, 75.5,0.45, 76,-0.4, 76.5,0.2, 77,-0.3, 77.5,0.45, 78,0.45, 78.5,-0.35, 79.5,-0.38, 80,0.45, 82,0.45, 83,-0.4, 84,-0.45, 85,0.62, 85.5,0.55, 86.5,0.6, 87.5,0.55, 88.5,-0.35, 90,-0.38, 92,-0.42, 94,-0.4, 97,-0.35, 98,-0.38, 99,-0.45, 100,-0.4, 100.5,0.55, 101.5,-0.45, 102,0.5, 110,0.5, 112,0.52, 113,0.62, 114,0.7, 120,0.7,
  120.5,0.5, 121,0.68, 121.5,0.5, 122,0.68, 123,0.5, 123.5,0.68, 124,0.5, 125,0.68, 125.5,0.5, 126,0.68, 127,0.5, 127.5,0.68, 128,0.5, 129,0.68, 129.5,0.5, 130,0.68, 131,0.5, 131.5,0.68, 132,0.5, 133,0.68, 133.5,0.5, 134.5,0.52, 144,0.5, 145,0.55, 146.5,0.95, 147,1, 148,0.9, 149,0.6, 150,0.5, 160,0.48, 170,0.45, 173,0.45, 174,-0.45, 174.5,0.45, 182,0.45, 182.5,0.62, 183.5,0.5, 186,0.5, 187,0.65, 188,0.7, 188.5,0.6, 189,-0.55, 190,-0.5, 191,0.55, 192,0.8, 193,0.6, 194,0.82, 195,0.6, 196,0.82, 197,0.55, 199,-0.45, 200,-0.48, 200.5,0.55, 201,0.75, 202,-0.45, 203,0.5, 212,0.5, 216,0.52, 219,0.55, 220,1, 221,0.65, 222,1, 223,0.62, 224,1, 226,0.62, 227,1, 230,1, 232,0.65, 233,1, 235,0.62, 236,1, 249,1, 250,0.6, 251,1, 253,0.62, 254,0.8, 256,1, 260.5,1, 262.5,0.55, 270,0.5, 278,0.48, 279,0.45, 280,-0.2, 281,-0.55, 282,-0.35, 282.5,0.1, 284,0.6];

// ---- colours ----
const BLUE = "#3a4cb3";
const GREEN = "#79bd32";
const PURPLE = "#ad58b3";
const YELLOW = "#efe630";
const RED = "#ea2a2a";
const CYAN = "#6fcade";
const BLACK = "#1c1c1c";

// ---- layout (page pixels) ----
const COL_LEFT = [36, 621.7];
const COL_WIDTH = [559.8, 563];
const GRID_H = 141;

type Panel = {
  name: string;
  sub: "L" | "R";
  values: number[];
  pulses: number[][];
  color: string;
  col: 0 | 1;
  top: number;
  legendAt: [number, number];
};

const panels: Panel[] = [
  { name: "Robot 1 wL", sub: "L", values: r1L, pulses: [], color: BLUE, col: 0, top: 28, legendAt: [75.6, 125] },
  { name: "Robot 1 wR", sub: "R", values: r1R, pulses: [], color: BLUE, col: 0, top: 224, legendAt: [50, 318] },
  { name: "Robot 5 wL", sub: "L", values: r5L, pulses: r5Lpulses, color: PURPLE, col: 0, top: 413, legendAt: [484, 511] },
  { name: "Robot 5 wR", sub: "R", values: r5R, pulses: r5Rpulses, color: PURPLE, col: 0, top: 609, legendAt: [482, 706] },
  { name: "Robot 3 wL", sub: "L", values: r3L, pulses: r3Lpulses, color: RED, col: 0, top: 817, legendAt: [444.7, 916] },
  { name: "Robot 3 wR", sub: "R", values: r3R, pulses: r3Rpulses, color: RED, col: 0, top: 1013, legendAt: [481.7, 1110] },
  { name: "Robot 7 wL", sub: "L", values: r7L, pulses: r7Lpulses, color: BLACK, col: 0, top: 1203, legendAt: [94.7, 1300] },
  { name: "Robot 7 wR", sub: "R", values: r7R, pulses: r7Rpulses, color: BLACK, col: 0, top: 1400, legendAt: [84, 1491] },
  { name: "Robot 2 wL", sub: "L", values: r2L, pulses: r2Lpulses, color: GREEN, col: 1, top: 28, legendAt: [1074, 126] },
  { name: "Robot 2 wR", sub: "R", values: r2R, pulses: r2Rpulses, color: GREEN, col: 1, top: 224, legendAt: [1072, 320] },
  { name: "Robot 6 wL", sub: "L", values: r6L, pulses: [], color: YELLOW, col: 1, top: 413, legendAt: [1074, 511] },
  { name: "Robot 6 wR", sub: "R", values: r6R, pulses: [], color: YELLOW, col: 1, top: 609, legendAt: [1072, 705] },
  { name: "Robot 4 wL", sub: "L", values: r4L, pulses: r4Lpulses, color: CYAN, col: 1, top: 807, legendAt: [1076.7, 905] },
  { name: "Robot 4 wR", sub: "R", values: r4R, pulses: r4Rpulses, color: CYAN, col: 1, top: 1003, legendAt: [1074.8, 1099] },
  { name: "Robot 8 wL", sub: "L", values: r8L, pulses: [], color: BLUE, col: 1, top: 1192, legendAt: [1054, 1289] },
  { name: "Robot 8 wR", sub: "R", values: r8R, pulses: [], color: BLUE, col: 1, top: 1389, legendAt: [1052, 1486] },
];

const titles: { text: string; cx: number; cy: number }[] = [
  { text: "Environment II - Robot 1: Pulses", cx: 302, cy: 18 },
  { text: "Environment II - Robot 2: Pulses", cx: 890, cy: 18 },
  { text: "Environment II - Robot 5: Pulses", cx: 302, cy: 403 },
  { text: "Environment II - Robot 6: Pulses", cx: 890, cy: 403 },
  { text: "Environment II - Robot 3: Pulses", cx: 302, cy: 807 },
  { text: "Environment II - Robot 4: Pulses", cx: 890, cy: 797 },
  { text: "Environment II - Robot 7: Pulses", cx: 302, cy: 1193 },
  { text: "Environment II - Robot 8: Pulses", cx: 890, cy: 1182 },
];

function toPairs(flat: number[]): [number, number][] {
  const out: [number, number][] = [];
  for (let i = 0; i + 1 < flat.length; i += 2) out.push([flat[i], flat[i + 1]]);
  return out;
}

const AXIS_COLOR = "#262626";
const LABEL_COLOR = "#4d4d4d";

function yLabel(v: number): string {
  if (Math.abs(v) === 0.5) return "0.5";
  return String(v);
}

function buildOption() {
  const grid: any[] = [];
  const xAxis: any[] = [];
  const yAxis: any[] = [];
  const series: any[] = [];
  const legend: any[] = [];

  panels.forEach((p, i) => {
    grid.push({
      left: COL_LEFT[p.col] / STRETCH,
      top: p.top,
      width: COL_WIDTH[p.col] / STRETCH,
      height: GRID_H,
      show: true,
      borderColor: AXIS_COLOR,
      borderWidth: 1,
      backgroundColor: "transparent",
    });
    const xBase = {
      type: "value",
      gridIndex: i,
      min: 0,
      max: X_MAX,
      interval: X_STEP,
      splitLine: { show: false },
      axisLine: { show: false, onZero: false },
      axisTick: { show: true, inside: true, length: 4, lineStyle: { color: AXIS_COLOR, width: 1 } },
    };
    xAxis.push({
      ...xBase,
      position: "bottom",
      axisLabel: {
        show: true,
        showMaxLabel: false,
        margin: 6,
        fontSize: 10.5,
        fontFamily: FONT,
        color: LABEL_COLOR,
      },
    });
    xAxis.push({ ...xBase, position: "top", axisLabel: { show: false } });
    const yBase = {
      type: "value",
      gridIndex: i,
      min: Y_MIN,
      max: Y_MAX,
      interval: Y_STEP,
      splitLine: { show: false },
      axisLine: { show: false, onZero: false },
      axisTick: { show: true, inside: true, length: 3, lineStyle: { color: AXIS_COLOR, width: 1 } },
    };
    yAxis.push({
      ...yBase,
      position: "left",
      axisLabel: {
        show: true,
        margin: 4.5,
        fontSize: 10.5,
        fontFamily: FONT,
        color: LABEL_COLOR,
        formatter: yLabel,
      },
    });
    yAxis.push({ ...yBase, position: "right", axisLabel: { show: false } });

    series.push({
      name: p.name,
      type: "line",
      xAxisIndex: i * 2,
      yAxisIndex: i * 2,
      data: toPairs(p.values),
      showSymbol: false,
      symbol: "none",
      silent: true,
      clip: true,
      connectNulls: false,
      lineStyle: { color: p.color, width: 1.2 },
      itemStyle: { color: p.color },
    });
    p.pulses.forEach((train, k) => {
      series.push({
        name: `${p.name} pulse train ${k + 1}`,
        type: "line",
        step: "end",
        xAxisIndex: i * 2,
        yAxisIndex: i * 2,
        data: toPairs(train),
        showSymbol: false,
        symbol: "none",
        silent: true,
        clip: true,
        lineStyle: { color: p.color, width: 0.95 },
        itemStyle: { color: p.color },
      });
    });

    legend.push({
      data: [p.name],
      left: p.legendAt[0] / STRETCH,
      top: p.legendAt[1],
      orient: "horizontal",
      selectedMode: false,
      icon: "rect",
      itemWidth: 33,
      itemHeight: 1.3,
      itemGap: 0,
      padding: [4, 4.5, 5, 4],
      backgroundColor: "#ffffff",
      borderColor: AXIS_COLOR,
      borderWidth: 1,
      borderRadius: 0,
      formatter: () => `{w|w}{s|${p.sub}}`,
      textStyle: {
        rich: {
          w: { fontSize: 16, fontFamily: FONT, color: "#1a1a1a", lineHeight: 24 },
          s: { fontSize: 12.5, fontFamily: FONT, color: "#1a1a1a", lineHeight: 12, padding: [14, 0, 0, 1] },
        },
      },
    });
  });

  const title = titles.map((t) => ({
    text: t.text,
    left: t.cx / STRETCH,
    top: t.cy,
    padding: 0,
    textAlign: "center",
    textVerticalAlign: "middle",
    textStyle: { fontSize: 16.5, fontWeight: "normal", fontFamily: FONT, color: "#1a1a1a" },
  }));

  return {
    animation: false,
    backgroundColor: "#ffffff",
    title,
    grid,
    xAxis,
    yAxis,
    legend,
    series,
  };
}

export default function App() {
  const ref = useRef<HTMLDivElement>(null);

  useEffect(() => {
    if (!ref.current) return;
    const chart = echarts.init(ref.current, undefined, { renderer: "svg" });
    chart.setOption(buildOption() as any);
    return () => chart.dispose();
  }, []);

  return (
    <div
      style={{
        position: "absolute",
        left: 0,
        top: 0,
        width: PAGE_W,
        height: PAGE_H,
        overflow: "hidden",
        background: "#ffffff",
      }}
    >
      <div
        ref={ref}
        style={{
          width: INNER_W,
          height: PAGE_H,
          transform: `scaleX(${STRETCH})`,
          transformOrigin: "0 0",
        }}
      />
    </div>
  );
}
